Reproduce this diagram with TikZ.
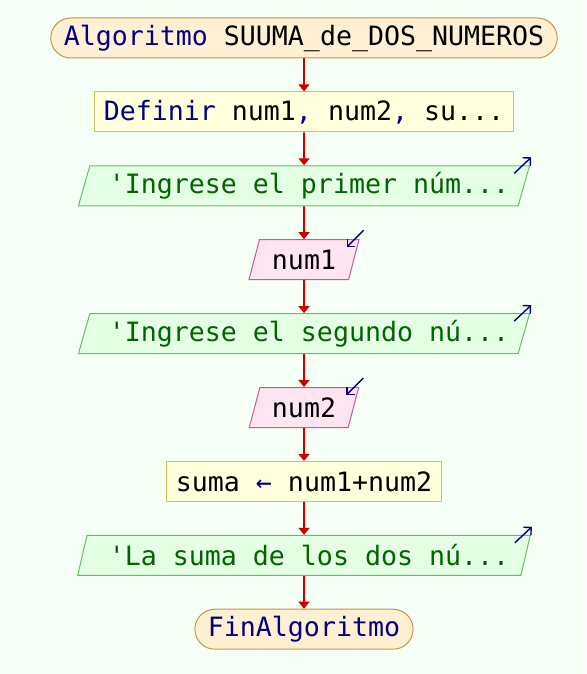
\documentclass[tikz,border=0pt]{standalone}
\usepackage{fontspec}
\setmonofont{DejaVu Sans Mono}
\usetikzlibrary{shapes.geometric,arrows.meta}

\definecolor{fondo}{HTML}{F5FFF5}
\definecolor{termfill}{HTML}{FFF0D4}
\definecolor{termline}{HTML}{C8914A}
\definecolor{procfill}{HTML}{FFFFDC}
\definecolor{procline}{HTML}{C8C85A}
\definecolor{outfill}{HTML}{E4FFE4}
\definecolor{outline}{HTML}{64C064}
\definecolor{infill}{HTML}{FFE4F2}
\definecolor{inline}{HTML}{C85A96}
\definecolor{flecha}{HTML}{CC0000}
\definecolor{kw}{HTML}{000080}
\definecolor{str}{HTML}{006400}

\begin{document}
\begin{tikzpicture}[->,>={Triangle[length=7pt,width=11pt]},x=1pt,y=1pt,node distance=73.9pt]
    \tikzstyle{every node}=[font=\ttfamily\fontsize{26.6}{30}\selectfont,minimum height=40pt,inner ysep=0pt,line width=1pt];
    \tikzstyle{terminal}=[draw=termline,fill=termfill,rounded corners=20pt,inner xsep=13pt];
    \tikzstyle{proceso}=[draw=procline,fill=procfill,inner xsep=9.5pt];
    \tikzstyle{salida}=[draw=outline,fill=outfill,trapezium,trapezium left angle=68,trapezium right angle=112,trapezium stretches=true,inner xsep=0pt,minimum width=453pt,text=str,execute at begin node={\hspace{10pt}}];
    \tikzstyle{entrada}=[draw=inline,fill=infill,trapezium,trapezium left angle=68,trapezium right angle=112,trapezium stretches=true,inner xsep=2pt,minimum width=110pt];
    \tikzstyle{flujo}=[draw=flecha,line width=2pt];
    \tikzstyle{io}=[-{Straight Barb[length=5.5pt,width=11pt]},draw=kw,line width=1.4pt];

    \fill[fondo] (0,0) rectangle (586,-674);
    \useasboundingbox (0,0) rectangle (586,-674);

    \node[terminal] (ini) at (304,-38) {\textcolor{kw}{Algoritmo} SUUMA\_de\_DOS\_NUMEROS};
    \node[proceso] (def) [below of=ini] {\textcolor{kw}{Definir} num1\textcolor{kw}{,} num2\textcolor{kw}{,} su...};
    \node[salida] (esc1) [below of=def] {'Ingrese el primer núm...};
    \node[entrada] (lee1) [below of=esc1] {num1};
    \node[salida] (esc2) [below of=lee1] {'Ingrese el segundo nú...};
    \node[entrada] (lee2) [below of=esc2] {num2};
    \node[proceso] (asig) [below of=lee2] {suma \textcolor{kw}{←} num1+num2};
    \node[salida] (esc3) [below of=asig] {'La suma de los dos nú...};
    \node[terminal] (fin) [below of=esc3] {\textcolor{kw}{FinAlgoritmo}};

    \draw[flujo] (ini) -- (def);
    \draw[flujo] (def) -- (esc1);
    \draw[flujo] (esc1) -- (lee1);
    \draw[flujo] (lee1) -- (esc2);
    \draw[flujo] (esc2) -- (lee2);
    \draw[flujo] (lee2) -- (asig);
    \draw[flujo] (asig) -- (esc3);
    \draw[flujo] (esc3) -- (fin);

    % marcas de entrada / salida
    \draw[io] ([shift={(-16,-8)}]esc1.top right corner) -- ([shift={(1,8)}]esc1.top right corner);
    \draw[io] ([shift={(-16,-8)}]esc2.top right corner) -- ([shift={(1,8)}]esc2.top right corner);
    \draw[io] ([shift={(-16,-8)}]esc3.top right corner) -- ([shift={(1,8)}]esc3.top right corner);
    \draw[io] ([shift={(4,9)}]lee1.top right corner) -- ([shift={(-13,-8)}]lee1.top right corner);
    \draw[io] ([shift={(4,9)}]lee2.top right corner) -- ([shift={(-13,-8)}]lee2.top right corner);
\end{tikzpicture}
\end{document}
